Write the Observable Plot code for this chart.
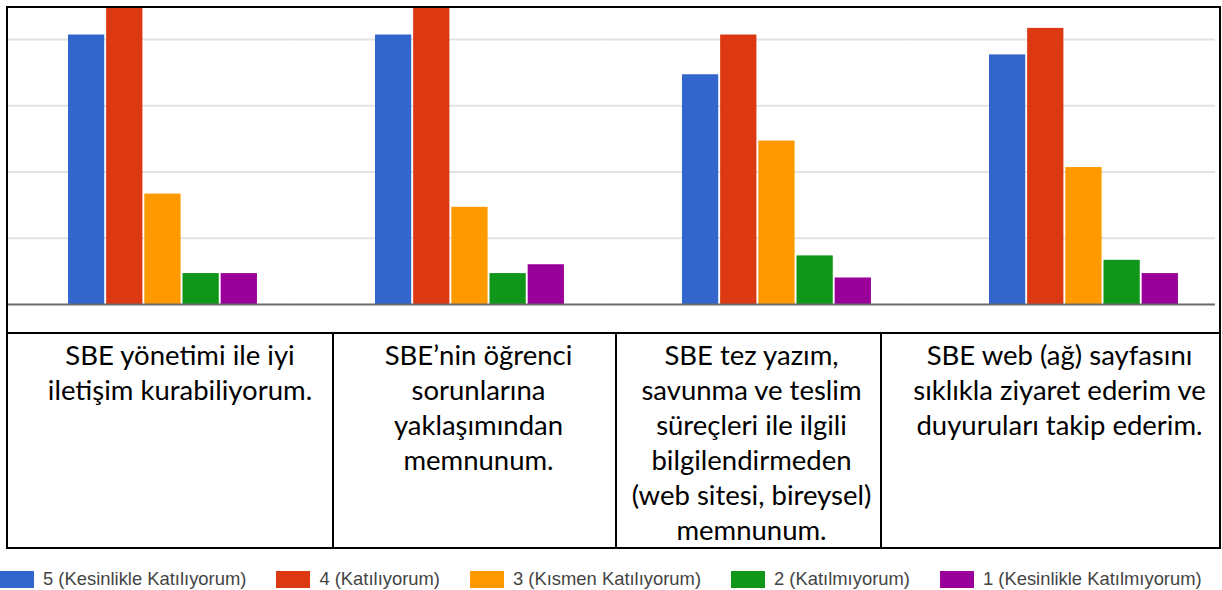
<!DOCTYPE html>
<html>
<head>
<meta charset="utf-8">
<script src="https://cdn.jsdelivr.net/npm/d3@7"></script>
<script src="https://cdn.jsdelivr.net/npm/@observablehq/plot@0.6"></script>
<style>
  html, body { margin: 0; padding: 0; background: #fff; width: 1222px; height: 590px; overflow: hidden; }
  #frame { position: absolute; left: 6px; top: 6px; width: 1211px; height: 539px; border: 2px solid #000; }
  #chart { height: 324px; }
  #chart svg { display: block; overflow: hidden; }
  #table { display: flex; box-sizing: border-box; height: 215px; border-top: 2px solid #000; }
  #table .cell { box-sizing: border-box; height: 100%; text-align: center; padding-top: 3px;
    font-family: "Lato", "Open Sans", sans-serif; font-size: 27.5px; line-height: 35px; color: #000; white-space: pre-line; }
  #table .cell + .cell { border-left: 2px solid #000; }
  #legend { position: absolute; left: 0; top: 568px; width: 1222px; }
  #legend > div { min-height: 0 !important; margin: 0 !important; display: flex !important; flex-wrap: nowrap !important; align-items: center !important;
    font-family: "Liberation Sans", Arial, sans-serif !important; font-size: 18.4px !important; color: #444 !important; white-space: nowrap !important; }
  #legend > div > span { margin-right: 30px !important; display: inline-flex !important; align-items: center !important; flex-shrink: 0 !important; }
  #legend > div > span:last-child { margin-right: 0 !important; }
  #legend svg { margin-right: 9px !important; }
</style>
</head>
<body>
<div id="frame">
  <div id="chart"></div>
  <div id="table"></div>
</div>
<div id="legend"></div>
<script>
// Categories (statements), as printed in the table below the chart
const categories = [
  "SBE yönetimi ile iyi\niletişim kurabiliyorum.",
  "SBE’nin öğrenci\nsorunlarına\nyaklaşımından\nmemnunum.",
  "SBE tez yazım,\nsavunma ve teslim\nsüreçleri ile ilgili\nbilgilendirmeden\n(web sitesi, bireysel)\nmemnunum.",
  "SBE web (ağ) sayfasını\nsıklıkla ziyaret ederim ve\nduyuruları takip ederim."
];
// Answer options (series)
const series = [
  "5 (Kesinlikle Katılıyorum)",
  "4 (Katılıyorum)",
  "3 (Kısmen Katılıyorum)",
  "2 (Katılmıyorum)",
  "1 (Kesinlikle Katılmıyorum)"
];
const seriesColors = ["#3366cc", "#dc3912", "#ff9900", "#109618", "#990099"];

// Counts per category, one array per answer option
const values5 = [61, 61, 52, 56.5];
const values4 = [72, 72, 61, 62.5];
const values3 = [25, 22, 37, 31];
const values2 = [7, 7, 11, 10];
const values1 = [7, 9, 6, 7];

const gridTicks = [15, 30, 45, 60];
const yMax = 67;

const seriesValues = [values5, values4, values3, values2, values1];
const data = [];
categories.forEach((c, i) => {
  series.forEach((s, j) => data.push({category: c, series: s, value: seriesValues[j][i]}));
});

// rules drawn in every facet, stretched across the gaps so they read as full-width lines
const spanRule = {insetLeft: -81, insetRight: -37};

const chart = Plot.plot({
  width: 1211,
  height: 324,
  marginLeft: 0,
  marginRight: 4,
  marginTop: 0,
  marginBottom: 28,
  style: {background: "transparent", overflow: "hidden"},
  fx: {domain: categories, paddingInner: 0.3844, paddingOuter: 0.158, align: 0.618, round: false, axis: null, label: null},
  x: {domain: series, paddingInner: 0.05, paddingOuter: 0, round: false, axis: null, label: null},
  y: {domain: [0, yMax], axis: null, label: null},
  color: {domain: series, range: seriesColors},
  marks: [
    Plot.ruleY(gridTicks, {y: d => d, stroke: "#e2e2e2", strokeWidth: 2, ...spanRule}),
    Plot.barY(data, {fx: "category", x: "series", y: "value", fill: "series", clip: true}),
    Plot.ruleY([0], {stroke: "#6b6b6b", strokeWidth: 2, ...spanRule})
  ]
});
document.getElementById("chart").appendChild(chart);

// Table of statements
const widths = [324, 283, 265, 339];
const padLeft = [20, 8, 6, 18];
const table = document.getElementById("table");
categories.forEach((c, i) => {
  const d = document.createElement("div");
  d.className = "cell";
  d.style.width = widths[i] + "px";
  d.style.paddingLeft = padLeft[i] + "px";
  d.textContent = c;
  table.appendChild(d);
});

// Legend
const legend = chart.legend("color", {swatchWidth: 34, swatchHeight: 17});
document.getElementById("legend").appendChild(legend);
</script>
</body>
</html>
